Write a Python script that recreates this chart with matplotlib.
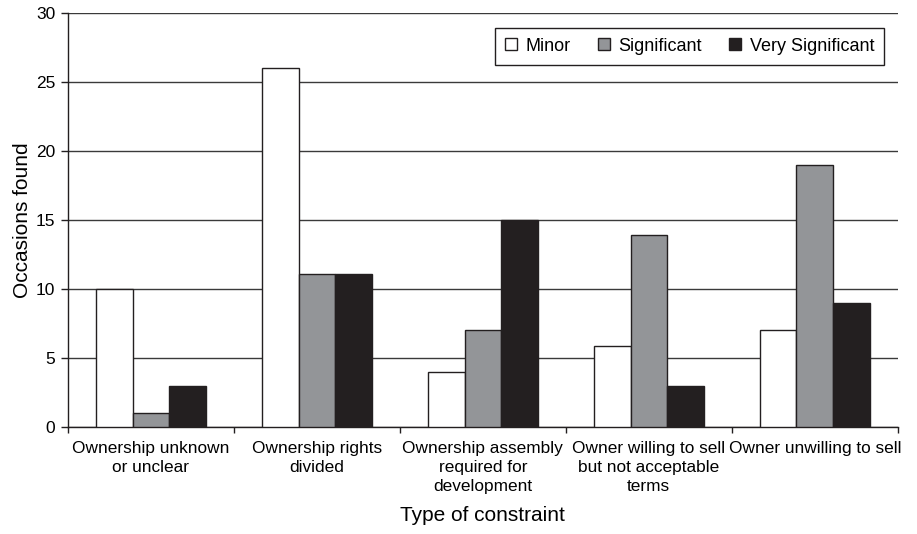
import numpy as np
import matplotlib
matplotlib.use("Agg")
import matplotlib.pyplot as plt

plt.rcParams["font.family"] = ["Liberation Sans", "DejaVu Sans"]

categories = [
    "Ownership unknown\nor unclear",
    "Ownership rights\ndivided",
    "Ownership assembly\nrequired for\ndevelopment",
    "Owner willing to sell\nbut not acceptable\nterms",
    "Owner unwilling to sell",
]
minor = [10, 26, 4, 5.9, 7]
significant = [1, 11.1, 7, 13.9, 19]
very_significant = [3, 11.1, 15, 3, 9]
series_names = ["Minor", "Significant", "Very Significant"]

COLORS = ["#ffffff", "#939598", "#231f20"]
EDGE = "#231f20"

fig = plt.figure(figsize=(9.17, 5.34), dpi=100)
ax = fig.add_axes([0.074, 0.2004, 0.905, 0.7753])

x = np.arange(len(categories))
w = 0.22
for i, (vals, name) in enumerate(zip([minor, significant, very_significant], series_names)):
    ax.bar(x + (i - 1) * w, vals, w, color=COLORS[i], edgecolor=EDGE,
           linewidth=1.0, label=name, zorder=3)

ax.set_xlim(-0.5, len(categories) - 0.5)
ax.set_ylim(0, 30)
ax.set_yticks(np.arange(0, 31, 5))
ax.yaxis.grid(True, color="#3a3a3a", lw=1.0, zorder=0)
ax.set_axisbelow(True)

# category labels centred, boundary ticks between them
ax.set_xticks(x)
ax.set_xticklabels(categories, fontsize=12.4, linespacing=1.32)
ax.tick_params(axis="x", length=0, pad=10)
ax.set_xticks(np.arange(-0.5, len(categories)), minor=True)
ax.tick_params(axis="x", which="minor", length=4, width=1, color=EDGE)
ax.tick_params(axis="y", labelsize=12.5, length=5, width=1, color=EDGE, pad=4)

for s in ["top", "right"]:
    ax.spines[s].set_visible(False)
for s in ["left", "bottom"]:
    ax.spines[s].set_color(EDGE)
    ax.spines[s].set_linewidth(1.0)

ax.set_ylabel("Occasions found", fontsize=15, labelpad=3)
ax.set_xlabel("Type of constraint", fontsize=15, labelpad=9)

leg = ax.legend(loc="upper right", ncol=3, fontsize=13, frameon=True,
                fancybox=False, edgecolor=EDGE, handlelength=0.65,
                handleheight=0.65, handletextpad=0.5, columnspacing=1.5,
                borderpad=0.55, borderaxespad=0,
                bbox_to_anchor=(0.984, 0.964))
leg.get_frame().set_linewidth(1.0)
leg.get_frame().set_alpha(1)

plt.savefig("out.png", dpi=100)
